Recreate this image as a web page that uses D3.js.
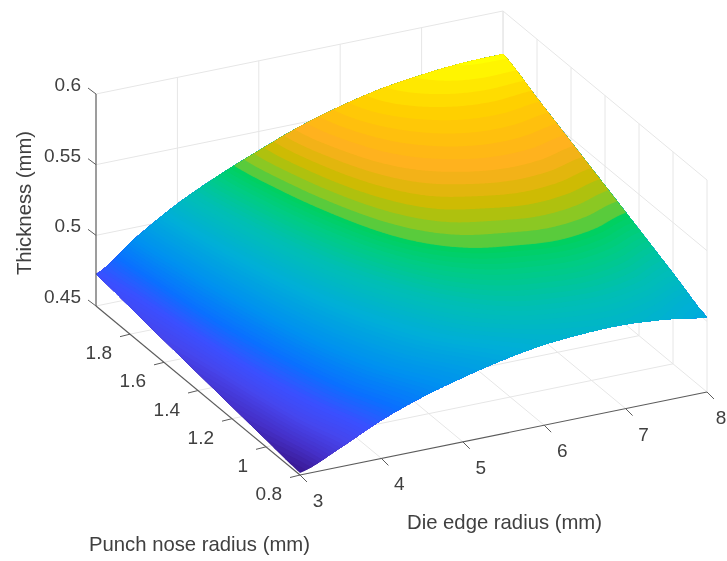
<!DOCTYPE html>
<html>
<head>
<meta charset="utf-8">
<script src="https://cdn.jsdelivr.net/npm/d3@7"></script>
<style>
  html, body { margin: 0; background: #fff; }
  svg { display: block; filter: blur(0.5px); }
  text { font-family: "Liberation Sans", Arial, sans-serif; font-size: 19px; fill: #404040; }
  text.title { font-size: 20.3px; }
</style>
</head>
<body>
<svg id="chart" width="727" height="561"></svg>
<script>
// die edge radius columns, punch nose radius rows
const dieEdge = [3, 3.5, 4, 4.5, 5, 5.5, 6, 6.5, 7, 7.5, 8];
const punchNose = [0.8, 1, 1.2, 1.4, 1.6, 1.8, 2];

// thickness, one list per punch nose radius
const thick08 = [.4514, .4635, .4770, .4875, .4955, .5022, .5070, .5092, .5096, .5072, .5030];
const thick10 = [.4549, .4696, .4842, .4959, .5052, .5126, .5172, .5190, .5195, .5178, .5141];
const thick12 = [.4585, .4751, .4909, .5035, .5136, .5217, .5265, .5285, .5295, .5283, .5252];
const thick14 = [.4620, .4802, .4968, .5101, .5211, .5299, .5355, .5380, .5395, .5388, .5363];
const thick16 = [.4655, .4850, .5020, .5157, .5272, .5368, .5436, .5475, .5495, .5494, .5473];
const thick18 = [.4691, .4891, .5067, .5205, .5325, .5428, .5507, .5558, .5587, .5595, .5584];
const thick20 = [.4726, .4930, .5105, .5245, .5365, .5475, .5560, .5625, .5665, .5690, .5695];
const thickRows = [thick08, thick10, thick12, thick14, thick16, thick18, thick20];

const dieTicks = [3, 4, 5, 6, 7, 8];
const punchTicks = [0.8, 1, 1.2, 1.4, 1.6, 1.8];
const thickTicks = [0.45, 0.5, 0.55, 0.6];
const thickFormat = d3.format(".2~f");

// colormap picked from the surface, bands get coarse above the green
const colorLevels = [.4505, .458, .466, .473, .482, .492, .505, .516, .524, .529, .5295, .534, .5385, .543, .547, .552, .559, .5645, .5695];
const colorValues = ["#38168c", "#4530c8", "#4646ee", "#3a50ff", "#0a70ff", "#0090f0", "#00aed8", "#00bfb4", "#00cc84", "#00d060",
  "#40cc48", "#90c820", "#c8bc00", "#e8b410", "#ffb020", "#ffbc10", "#ffd000", "#ffe800", "#ffff00"];
const fineStep = 0.0012, bandStep = 0.0028, bandStart = 0.5295;

const svg = d3.select("#chart");

// axes as unit scales, the projection is a plain oblique map of those
const ux = d3.scaleLinear().domain([3, 8]).range([0, 1]);
const uy = d3.scaleLinear().domain([0.8, 2]).range([0, 1]);
const uz = d3.scaleLinear().domain([0.45, 0.6]).range([0, 1]);
const origin = [300, 475], xVec = [407, -83], yVec = [-204, -169], zVec = [0, -212];

function project(x, y, z) {
  const a = ux(x), b = uy(y), c = uz(z);
  return [
    origin[0] + a * xVec[0] + b * yVec[0] + c * zVec[0],
    origin[1] + a * xVec[1] + b * yVec[1] + c * zVec[1],
  ];
}

const line = d3.line();
const gridColor = "#e6e6e6";
const axisColor = "#5c5c5c";
const zTop = 0.6, zLow = 0.45, xHigh = 8, xLow = 3, yHigh = 2, yLow = 0.8;

function seg(parent, pts, color, width) {
  parent.append("path").attr("d", line(pts)).attr("fill", "none")
    .attr("stroke", color).attr("stroke-width", width);
}

// back walls and floor
const grid = svg.append("g");
dieTicks.forEach((x) => {
  if (x !== xLow) seg(grid, [project(x, yLow, zLow), project(x, yHigh, zLow), project(x, yHigh, zTop)], gridColor, 1);
});
punchTicks.concat([yHigh]).forEach((y) => {
  if (y !== yLow) seg(grid, [project(xLow, y, zLow), project(xHigh, y, zLow), project(xHigh, y, zTop)], gridColor, 1);
});
seg(grid, [project(xHigh, yLow, zLow), project(xHigh, yLow, zTop)], gridColor, 1);
thickTicks.forEach((z) => {
  if (z !== zLow) seg(grid, [project(xLow, yHigh, z), project(xHigh, yHigh, z), project(xHigh, yLow, z)], gridColor, 1);
});

// catmull-rom through the table so the surface edge stays smooth
function cr(p0, p1, p2, p3, t) {
  return 0.5 * (2 * p1 + (p2 - p0) * t + (2 * p0 - 5 * p1 + 4 * p2 - p3) * t * t + (3 * p1 - p0 - 3 * p2 + p3) * t * t * t);
}
function sample(arr, u) {
  const n = arr.length - 1;
  const i = Math.min(n - 1, Math.floor(u * n));
  const t = u * n - i;
  const at = (k) => arr[Math.max(0, Math.min(n, k))];
  return cr(at(i - 1), at(i), at(i + 1), at(i + 2), t);
}
function thicknessAt(a, b) {
  const col = thickRows.map((row) => sample(row, a));
  return sample(col, b);
}

const nx = 240, ny = 160;
const values = new Array(nx * ny);
for (let j = 0; j < ny; j++) {
  for (let i = 0; i < nx; i++) {
    values[j * nx + i] = thicknessAt(i / (nx - 1), j / (ny - 1));
  }
}

const zMin = d3.min(values), zMax = d3.max(values);
const levels = d3.range(zMin - 1e-6, bandStart, fineStep).concat(d3.range(bandStart, zMax, bandStep));
const colorScale = d3.scaleLinear().domain(colorLevels).range(colorValues).interpolate(d3.interpolateRgb).clamp(true);

const contours = d3.contours().size([nx, ny]).thresholds(levels)(values);

function ringPath(ring) {
  const pts = ring.map(([cx, cy]) => {
    const a = Math.max(0, Math.min(1, (cx - 0.5) / (nx - 1)));
    const b = Math.max(0, Math.min(1, (cy - 0.5) / (ny - 1)));
    return project(ux.invert(a), uy.invert(b), thicknessAt(a, b));
  });
  return line(pts) + "Z";
}

svg.append("g").selectAll("path")
  .data(contours)
  .join("path")
  .attr("d", (c) => c.coordinates.map((poly) => poly.map(ringPath).join("")).join(""))
  .attr("fill-rule", "evenodd")
  .attr("fill", (c) => colorScale(c.value + (c.value < bandStart ? fineStep : bandStep) / 2));

// axis lines and ticks
const axes = svg.append("g");
seg(axes, [project(xLow, yHigh, zLow), project(xLow, yHigh, zTop)], axisColor, 1.2);
seg(axes, [project(xLow, yHigh, zLow), project(xLow, yLow, zLow)], axisColor, 1.2);
seg(axes, [project(xLow, yLow, zLow), project(xHigh, yLow, zLow)], axisColor, 1.2);

thickTicks.forEach((z) => {
  const p = project(xLow, yHigh, z);
  seg(axes, [p, [p[0] - 8, p[1] - 6]], axisColor, 1);
  axes.append("text").attr("x", p[0] - 15).attr("y", p[1] - 8)
    .attr("text-anchor", "end").attr("dominant-baseline", "middle").text(thickFormat(z));
});
punchTicks.forEach((y) => {
  const p = project(xLow, y, zLow);
  seg(axes, [p, [p[0] - 10, p[1] + 2.5]], axisColor, 1);
  axes.append("text").attr("x", p[0] - 18).attr("y", p[1] + 20)
    .attr("text-anchor", "end").attr("dominant-baseline", "middle").text(y);
});
dieTicks.forEach((x) => {
  const p = project(x, yLow, zLow);
  seg(axes, [p, [p[0] + 7, p[1] + 7]], axisColor, 1);
  // the last label sits against the window edge
  axes.append("text").attr("x", Math.min(p[0] + 18, 721)).attr("y", p[1] + 27)
    .attr("text-anchor", "middle").attr("dominant-baseline", "middle").text(x);
});

// axis titles
svg.append("text").attr("class", "title").attr("text-anchor", "middle")
  .attr("transform", "translate(31,203) rotate(-90)").text("Thickness (mm)");
svg.append("text").attr("class", "title").attr("x", 89).attr("y", 551).text("Punch nose radius (mm)");
svg.append("text").attr("class", "title").attr("x", 407).attr("y", 529).text("Die edge radius (mm)");
</script>
</body>
</html>
